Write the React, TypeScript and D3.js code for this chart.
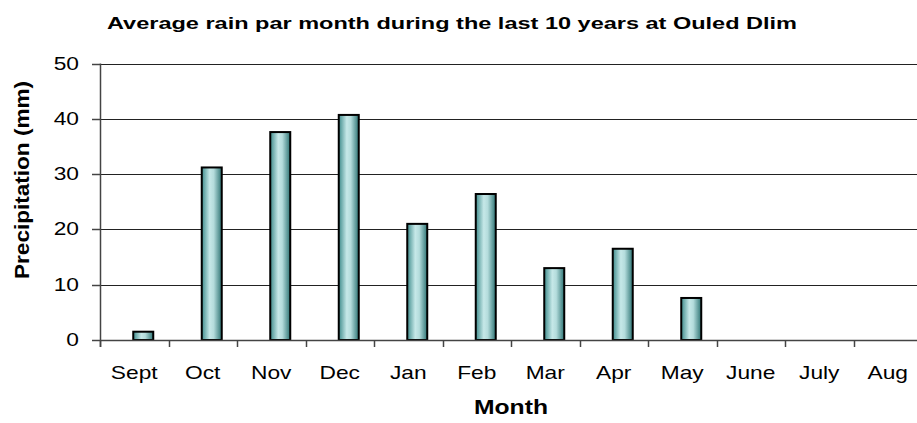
import { useEffect, useRef } from "react";
import * as d3 from "d3";

const months = ["Sept", "Oct", "Nov", "Dec", "Jan", "Feb", "Mar", "Apr", "May", "June", "July", "Aug"];
const rain = [1.5, 31.2, 37.6, 40.7, 21.0, 26.4, 13.0, 16.5, 7.6, 0, 0, 0];
const yTicks = [0, 10, 20, 30, 40, 50];

function App() {
  const svgRef = useRef<SVGSVGElement>(null);

  useEffect(() => {
    if (!svgRef.current) return;
    const svg = d3.select(svgRef.current);
    svg.selectAll("*").remove();

    const W = 917;
    const H = 423;
    const left = 100;
    const right = 922;
    const top = 63.5;
    const bottom = 340;

    const x = d3.scaleBand<string>().domain(months).range([left, right]);
    const y = d3.scaleLinear().domain([0, 50]).range([bottom, top]);

    const defs = svg.append("defs");
    const grad = defs
      .append("linearGradient")
      .attr("id", "barGrad")
      .attr("x1", "0%")
      .attr("x2", "100%")
      .attr("y1", "0%")
      .attr("y2", "0%");
    grad.append("stop").attr("offset", "0%").attr("stop-color", "#3f8c8c");
    grad.append("stop").attr("offset", "40%").attr("stop-color", "#c6e8e8");
    grad.append("stop").attr("offset", "60%").attr("stop-color", "#b4dcdc");
    grad.append("stop").attr("offset", "100%").attr("stop-color", "#2e7474");

    const font = "Liberation Sans, Arial, sans-serif";

    // gridlines
    svg
      .append("g")
      .selectAll("line")
      .data(yTicks.filter((t) => t > 0))
      .enter()
      .append("line")
      .attr("x1", left)
      .attr("x2", W)
      .attr("y1", (d) => Math.round(y(d)) + 0.5)
      .attr("y2", (d) => Math.round(y(d)) + 0.5)
      .attr("stroke", "#222")
      .attr("stroke-width", 1);

    // bars
    const bw = 20;
    const offset = 9;
    svg
      .append("g")
      .selectAll("rect")
      .data(months.map((m, i) => ({ m, v: rain[i] })).filter((d) => d.v > 0))
      .enter()
      .append("rect")
      .attr("x", (d) => (x(d.m) as number) + x.bandwidth() / 2 + offset - bw / 2)
      .attr("y", (d) => y(d.v))
      .attr("width", bw)
      .attr("height", (d) => y(0) - y(d.v))
      .attr("fill", "url(#barGrad)")
      .attr("stroke", "#000")
      .attr("stroke-width", 2);

    // x axis
    const xAxis = svg.append("g");
    xAxis
      .append("line")
      .attr("x1", left)
      .attr("x2", W)
      .attr("y1", bottom + 0.5)
      .attr("y2", bottom + 0.5)
      .attr("stroke", "#444")
      .attr("stroke-width", 1.5);
    xAxis
      .selectAll("line.tick")
      .data(months)
      .enter()
      .append("line")
      .attr("class", "tick")
      .attr("x1", (d) => Math.round(x(d) as number) + 0.5)
      .attr("x2", (d) => Math.round(x(d) as number) + 0.5)
      .attr("y1", bottom)
      .attr("y2", bottom + 7)
      .attr("stroke", "#444")
      .attr("stroke-width", 1.5);
    xAxis
      .selectAll("text")
      .data(months)
      .enter()
      .append("text")
      .attr("transform", (d) => `translate(${(x(d) as number) + x.bandwidth() / 2},379) scale(1.3,1)`)
      .attr("text-anchor", "middle")
      .attr("font-family", font)
      .attr("font-size", 17.5)
      .attr("fill", "#000")
      .text((d) => d);

    // y axis
    const yAxis = svg.append("g");
    yAxis
      .append("line")
      .attr("x1", left + 0.5)
      .attr("x2", left + 0.5)
      .attr("y1", top)
      .attr("y2", bottom + 7)
      .attr("stroke", "#444")
      .attr("stroke-width", 1.5);
    yAxis
      .selectAll("line.tick")
      .data(yTicks)
      .enter()
      .append("line")
      .attr("class", "tick")
      .attr("x1", left - 8)
      .attr("x2", left)
      .attr("y1", (d) => Math.round(y(d)) + 0.5)
      .attr("y2", (d) => Math.round(y(d)) + 0.5)
      .attr("stroke", "#444")
      .attr("stroke-width", 1.5);
    yAxis
      .selectAll("text")
      .data(yTicks)
      .enter()
      .append("text")
      .attr("transform", (d) => `translate(79,${y(d) + 6}) scale(1.3,1)`)
      .attr("text-anchor", "end")
      .attr("font-family", font)
      .attr("font-size", 17.5)
      .attr("fill", "#000")
      .text((d) => d);

    // titles
    svg
      .append("text")
      .attr("x", 452)
      .attr("y", 29)
      .attr("text-anchor", "middle")
      .attr("font-family", font)
      .attr("font-weight", "bold")
      .attr("font-size", 17)
      .attr("textLength", 690)
      .attr("lengthAdjust", "spacingAndGlyphs")
      .text("Average rain par month during the last 10 years at Ouled Dlim");

    svg
      .append("text")
      .attr("x", 511)
      .attr("y", 414)
      .attr("text-anchor", "middle")
      .attr("font-family", font)
      .attr("font-weight", "bold")
      .attr("font-size", 20)
      .attr("textLength", 74)
      .attr("lengthAdjust", "spacingAndGlyphs")
      .text("Month");

    svg
      .append("text")
      .attr("transform", "translate(29,180) rotate(-90)")
      .attr("text-anchor", "middle")
      .attr("font-family", font)
      .attr("font-weight", "bold")
      .attr("font-size", 21)
      .attr("textLength", 198)
      .attr("lengthAdjust", "spacingAndGlyphs")
      .text("Precipitation (mm)");

    svg.attr("width", W).attr("height", H);
  }, []);

  return (
    <svg
      ref={svgRef}
      style={{ position: "absolute", left: 0, top: 0, background: "#fff" }}
    ></svg>
  );
}

export default App;
